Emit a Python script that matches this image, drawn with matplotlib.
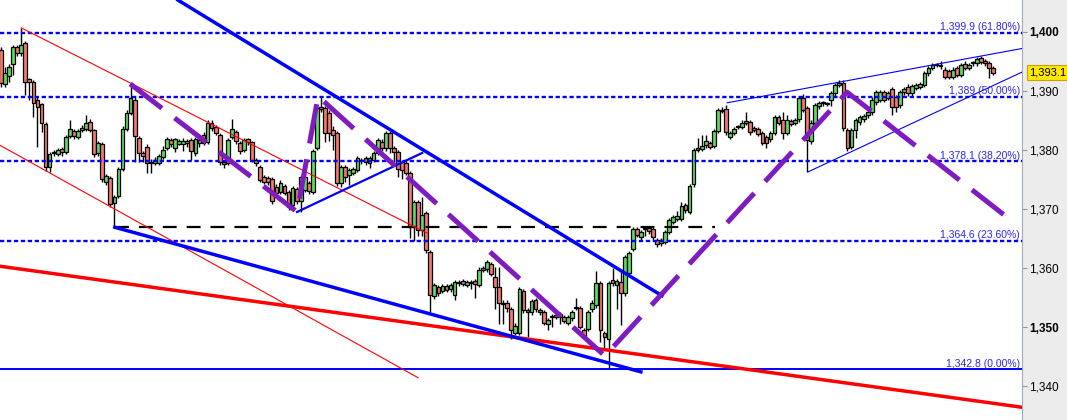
import matplotlib.pyplot as plt
import matplotlib.transforms as mtransforms
from matplotlib.patches import Rectangle

plt.rcParams['font.family'] = ['Liberation Sans', 'DejaVu Sans']
plt.rcParams['lines.scale_dashes'] = False

# daily candles
opens = [1396.9, 1391.2, 1392.5, 1394.6, 1397.4, 1396.4, 1398.1, 1392.0, 1391.5, 1388.5,
         1387.8, 1384.4, 1377.1, 1379.6, 1379.3, 1380.2, 1379.6, 1382.3, 1383.2, 1382.2,
         1383.4, 1383.5, 1384.7, 1383.4, 1379.5, 1381.0, 1374.6, 1375.2, 1371.0, 1372.2,
         1376.8, 1383.5, 1386.3, 1388.5, 1382.0, 1379.5, 1380.5, 1377.9, 1377.8, 1377.8,
         1378.8, 1380.3, 1381.7, 1380.3, 1381.0, 1381.0, 1381.2, 1381.7, 1379.5, 1381.7,
         1382.5, 1381.3, 1384.6, 1383.9, 1382.5, 1377.9, 1377.8, 1382.2, 1383.0, 1381.2,
         1380.0, 1381.8, 1381.3, 1378.3, 1377.1, 1375.4, 1375.2, 1375.1, 1373.7, 1372.9,
         1373.9, 1372.9, 1370.7, 1373.4, 1371.3, 1373.2, 1374.4, 1372.9, 1380.3, 1387.3,
         1387.1, 1386.3, 1383.4, 1382.9, 1374.4, 1377.1, 1375.7, 1376.1, 1376.6, 1378.1,
         1378.6, 1377.8, 1378.3, 1379.5, 1381.3, 1380.3, 1382.9, 1380.3, 1379.6, 1377.9,
         1377.8, 1376.1, 1366.9, 1371.2, 1366.4, 1369.3, 1362.7, 1355.2, 1356.8, 1356.1,
         1356.9, 1356.4, 1355.4, 1357.6, 1357.8, 1357.1, 1357.4, 1357.8, 1357.1, 1359.7,
         1359.8, 1360.7, 1358.4, 1356.8, 1354.1, 1354.1, 1353.0, 1349.0, 1349.0, 1356.1,
         1352.9, 1352.5, 1354.6, 1352.9, 1352.5, 1350.5, 1351.8, 1351.7, 1352.2, 1351.7,
         1350.7, 1351.5, 1353.2, 1353.2, 1349.5, 1349.7, 1353.0, 1353.7, 1357.4, 1349.0,
         1347.9, 1358.0, 1357.1, 1357.6, 1355.7, 1359.1, 1363.2, 1366.6, 1365.2, 1366.6,
         1366.8, 1366.6, 1364.7, 1364.2, 1364.4, 1366.1, 1367.8, 1368.3, 1368.3, 1370.7,
         1369.5, 1374.2, 1380.0, 1380.2, 1380.8, 1381.2, 1380.7, 1383.2, 1386.8, 1386.9,
         1382.2, 1382.9, 1383.9, 1383.9, 1384.6, 1384.7, 1383.7, 1383.5, 1382.9, 1382.2,
         1381.8, 1382.9, 1385.6, 1385.1, 1382.9, 1384.9, 1384.6, 1385.2, 1388.8, 1387.1,
         1381.5, 1384.6, 1387.4, 1387.9, 1387.9, 1388.5, 1389.6, 1391.0, 1391.4, 1383.4,
         1380.5, 1383.4, 1384.7, 1385.2, 1385.9, 1386.4, 1388.1, 1388.5, 1389.8, 1388.8,
         1390.3, 1389.0, 1387.6, 1389.8, 1390.7, 1389.6, 1390.5, 1390.7, 1391.0, 1393.0,
         1393.9, 1394.4, 1394.4, 1393.6, 1393.4, 1392.4, 1393.9, 1392.7, 1394.6, 1393.9,
         1394.7, 1394.7, 1395.6, 1395.1, 1394.7, 1393.9]
highs = [1397.5, 1394.1, 1394.5, 1397.8, 1397.8, 1400.7, 1398.5, 1392.2, 1391.9, 1388.9,
         1388.0, 1384.8, 1379.6, 1380.0, 1380.4, 1380.5, 1382.6, 1385.1, 1383.6, 1383.6,
         1384.2, 1385.9, 1385.2, 1383.6, 1381.6, 1381.4, 1376.0, 1375.6, 1372.3, 1377.2,
         1384.0, 1386.7, 1391.4, 1389.0, 1382.4, 1379.8, 1381.0, 1378.4, 1378.8, 1379.4,
         1380.6, 1382.2, 1382.0, 1382.0, 1381.8, 1382.0, 1381.9, 1382.0, 1382.2, 1382.0,
         1383.0, 1385.0, 1385.0, 1384.3, 1382.9, 1378.2, 1382.0, 1385.2, 1383.4, 1381.5,
         1382.0, 1382.1, 1381.6, 1378.6, 1377.5, 1375.8, 1375.6, 1375.4, 1374.2, 1374.9,
         1374.3, 1373.2, 1373.9, 1373.8, 1375.8, 1376.3, 1374.8, 1380.2, 1387.5, 1389.1,
         1387.5, 1386.7, 1384.0, 1383.3, 1377.5, 1377.5, 1377.0, 1377.2, 1379.0, 1378.7,
         1379.0, 1379.0, 1379.9, 1382.1, 1381.8, 1383.3, 1383.3, 1380.7, 1380.0, 1378.3,
         1378.2, 1376.5, 1371.6, 1371.6, 1372.0, 1369.7, 1363.1, 1357.5, 1357.2, 1357.3,
         1357.3, 1357.5, 1358.0, 1358.0, 1358.2, 1358.0, 1357.9, 1358.2, 1360.1, 1360.4,
         1361.4, 1361.1, 1360.2, 1360.2, 1354.5, 1354.5, 1353.4, 1350.6, 1356.8, 1356.5,
         1353.3, 1354.8, 1355.0, 1353.3, 1352.9, 1351.6, 1352.2, 1352.4, 1352.6, 1352.1,
         1352.1, 1352.9, 1355.0, 1353.6, 1349.9, 1352.9, 1354.5, 1359.5, 1357.8, 1349.4,
         1357.8, 1360.0, 1358.2, 1359.5, 1362.2, 1362.9, 1367.0, 1367.0, 1366.5, 1367.0,
         1367.2, 1367.0, 1365.1, 1365.1, 1366.5, 1368.5, 1369.0, 1369.6, 1371.2, 1371.1,
         1374.3, 1380.4, 1382.0, 1382.5, 1382.5, 1381.6, 1383.6, 1387.2, 1387.3, 1387.6,
         1383.3, 1383.9, 1384.3, 1385.0, 1386.4, 1385.1, 1384.1, 1383.9, 1383.3, 1382.6,
         1383.3, 1386.0, 1386.0, 1386.5, 1386.0, 1385.3, 1385.5, 1389.2, 1389.5, 1387.5,
         1385.0, 1388.0, 1388.3, 1388.3, 1388.2, 1390.0, 1391.4, 1391.8, 1391.8, 1383.8,
         1383.8, 1385.5, 1386.0, 1386.1, 1387.5, 1388.9, 1390.2, 1390.2, 1390.2, 1390.0,
         1390.7, 1389.4, 1390.2, 1390.7, 1391.1, 1391.2, 1391.4, 1391.6, 1393.4, 1394.3,
         1394.8, 1394.8, 1395.0, 1394.0, 1393.8, 1394.0, 1394.3, 1394.8, 1395.0, 1394.8,
         1395.1, 1395.8, 1396.0, 1395.5, 1395.1, 1394.3]
lows = [1390.7, 1390.7, 1391.6, 1392.7, 1396.0, 1396.0, 1389.3, 1388.5, 1385.6, 1380.5,
        1383.0, 1376.5, 1376.3, 1379.0, 1378.9, 1379.0, 1379.3, 1382.0, 1381.8, 1381.8,
        1383.0, 1383.2, 1383.0, 1378.8, 1379.0, 1374.6, 1374.0, 1370.3, 1367.0, 1371.8,
        1376.4, 1383.2, 1386.0, 1377.9, 1378.0, 1378.0, 1376.1, 1376.1, 1377.4, 1377.5,
        1378.4, 1380.0, 1380.5, 1379.6, 1380.8, 1379.8, 1380.5, 1378.3, 1379.0, 1380.5,
        1380.8, 1381.0, 1383.3, 1382.5, 1377.4, 1376.9, 1377.4, 1381.8, 1381.0, 1379.3,
        1379.6, 1380.9, 1377.9, 1377.3, 1374.5, 1374.2, 1374.0, 1370.9, 1372.3, 1372.5,
        1372.3, 1369.8, 1370.3, 1370.9, 1369.5, 1372.8, 1372.5, 1372.5, 1380.0, 1386.5,
        1381.3, 1381.5, 1380.0, 1373.9, 1373.8, 1374.5, 1374.0, 1375.7, 1376.2, 1377.7,
        1377.5, 1377.0, 1377.9, 1379.1, 1379.9, 1379.9, 1379.5, 1378.0, 1375.5, 1375.0,
        1375.7, 1365.0, 1364.5, 1365.5, 1365.5, 1362.5, 1352.5, 1354.8, 1355.3, 1355.7,
        1355.9, 1356.0, 1354.5, 1357.0, 1356.9, 1356.7, 1356.5, 1355.0, 1356.7, 1359.3,
        1359.4, 1358.6, 1353.0, 1350.5, 1350.5, 1352.5, 1348.0, 1348.6, 1348.6, 1352.4,
        1348.3, 1352.1, 1352.6, 1352.1, 1350.3, 1349.5, 1350.0, 1351.3, 1350.5, 1350.6,
        1350.3, 1351.1, 1352.8, 1349.6, 1347.9, 1349.3, 1352.6, 1353.3, 1347.5, 1346.3,
        1343.0, 1357.0, 1353.0, 1350.3, 1355.3, 1358.7, 1362.8, 1365.2, 1364.8, 1365.5,
        1365.8, 1364.8, 1363.6, 1363.8, 1364.0, 1365.7, 1367.4, 1367.9, 1367.9, 1369.4,
        1369.1, 1373.8, 1379.6, 1379.8, 1380.4, 1380.1, 1380.3, 1382.8, 1386.2, 1382.6,
        1381.8, 1382.5, 1383.5, 1383.5, 1384.3, 1382.6, 1383.0, 1382.3, 1380.8, 1380.3,
        1381.4, 1382.5, 1384.2, 1381.8, 1382.5, 1384.0, 1384.2, 1384.8, 1386.4, 1376.3,
        1381.1, 1384.2, 1387.0, 1387.5, 1387.4, 1387.5, 1389.2, 1390.6, 1383.3, 1379.9,
        1380.1, 1382.0, 1384.3, 1384.8, 1385.5, 1386.0, 1387.7, 1388.1, 1388.1, 1388.4,
        1386.0, 1386.5, 1387.2, 1389.4, 1389.2, 1389.2, 1390.1, 1390.3, 1390.6, 1392.6,
        1393.5, 1394.0, 1393.8, 1392.0, 1392.0, 1392.0, 1392.3, 1392.3, 1393.5, 1393.5,
        1394.3, 1394.3, 1394.5, 1394.3, 1392.2, 1392.7]
closes = [1391.4, 1393.0, 1394.1, 1397.4, 1396.4, 1397.8, 1391.5, 1391.5, 1387.9, 1387.3,
          1384.6, 1377.1, 1379.3, 1379.5, 1380.0, 1379.6, 1382.2, 1383.5, 1382.3, 1383.2,
          1383.7, 1384.6, 1383.4, 1379.3, 1381.2, 1375.1, 1375.6, 1370.8, 1372.0, 1376.8,
          1383.5, 1386.3, 1388.8, 1382.3, 1379.5, 1378.9, 1377.8, 1377.8, 1378.3, 1378.9,
          1380.0, 1381.8, 1381.0, 1381.8, 1381.5, 1381.5, 1381.5, 1379.8, 1381.8, 1381.2,
          1381.2, 1384.6, 1383.7, 1382.9, 1377.9, 1377.6, 1381.7, 1383.5, 1381.5, 1379.8,
          1381.7, 1381.3, 1378.3, 1377.8, 1374.9, 1374.6, 1374.6, 1371.3, 1372.7, 1374.4,
          1372.7, 1370.3, 1373.5, 1371.3, 1375.4, 1375.4, 1373.0, 1379.8, 1387.1, 1386.9,
          1382.9, 1382.9, 1382.5, 1374.4, 1377.1, 1375.4, 1376.6, 1376.8, 1378.6, 1378.3,
          1377.9, 1378.6, 1379.5, 1381.7, 1380.3, 1382.9, 1380.3, 1379.6, 1376.8, 1376.6,
          1376.1, 1366.9, 1371.2, 1366.4, 1369.0, 1363.0, 1355.4, 1357.1, 1355.7, 1356.9,
          1356.3, 1357.1, 1357.6, 1357.4, 1357.3, 1357.6, 1357.4, 1357.3, 1359.7, 1360.0,
          1361.0, 1359.0, 1356.8, 1354.1, 1353.9, 1353.2, 1349.5, 1350.2, 1356.4, 1352.9,
          1352.5, 1354.4, 1353.0, 1352.5, 1350.7, 1351.2, 1351.7, 1352.0, 1351.7, 1351.0,
          1351.7, 1352.5, 1353.4, 1350.0, 1348.3, 1352.5, 1354.1, 1357.4, 1349.5, 1348.3,
          1357.4, 1357.4, 1357.8, 1355.7, 1361.8, 1362.5, 1366.6, 1365.6, 1366.1, 1366.6,
          1366.2, 1365.2, 1364.0, 1364.7, 1366.1, 1368.1, 1368.6, 1368.8, 1370.5, 1369.8,
          1373.9, 1380.0, 1380.3, 1380.7, 1381.5, 1380.5, 1383.2, 1386.8, 1386.6, 1383.0,
          1382.9, 1383.5, 1383.9, 1384.6, 1384.9, 1383.0, 1383.4, 1382.7, 1381.2, 1381.2,
          1382.9, 1385.6, 1384.6, 1382.9, 1385.1, 1384.4, 1385.1, 1388.8, 1386.8, 1381.7,
          1384.6, 1387.6, 1387.9, 1387.9, 1387.8, 1389.6, 1391.0, 1391.4, 1383.7, 1380.3,
          1383.4, 1385.1, 1385.6, 1385.7, 1386.4, 1388.5, 1389.8, 1389.8, 1388.5, 1389.6,
          1387.3, 1387.3, 1389.8, 1390.3, 1389.6, 1390.8, 1391.0, 1391.2, 1393.0, 1393.9,
          1394.4, 1394.4, 1394.2, 1392.4, 1392.4, 1393.6, 1392.7, 1394.4, 1393.9, 1394.4,
          1394.7, 1395.4, 1394.9, 1394.7, 1393.9, 1393.1]

# fibonacci retracement levels
fib_levels = [1399.9, 1389.0, 1378.1, 1364.6]
fib_labels = ['1,399.9 (61.80%)', '1,389 (50.00%)', '1,378.1 (38.20%)', '1,364.6 (23.60%)']
base_level = 1342.8
base_label = '1,342.8 (0.00%)'
support_level = 1367.0
last_price = 1393.1

# drawn trend lines, as (bar index, price)
red_upper = ([5.0, 105.2], [1400.7, 1365.9])
red_lower = ([-0.25, 103.0], [1380.8, 1341.4])
red_long = ([-0.25, 252.1], [1360.3, 1336.4])
wedge_top = ([43.7, 163.2], [1405.4, 1355.3])
wedge_bottom = ([28.1, 158.0], [1366.9, 1342.4])
flag_line = ([73.1, 104.0], [1369.5, 1379.5])
rise_top = ([179.3, 252.1], [1388.0, 1397.2])
rise_bottom = ([199.3, 252.1], [1376.3, 1393.2])
support_span = [28.1, 176.3]
zigzag = ([31.9, 73.1, 78.3, 149.1, 208.9, 248.6],
          [1391.2, 1369.5, 1389.1, 1345.1, 1389.8, 1368.5])

fig = plt.figure(figsize=(10.67, 4.2), dpi=100)
fig.patches.append(Rectangle((1022 / 1067, 0), 45 / 1067, 1, transform=fig.transFigure,
                             facecolor='#ECECEC', edgecolor='none', zorder=-1))
ax = fig.add_axes([0, 0, 1022 / 1067, 1])

x = list(range(len(opens)))
up = [c >= o for o, c in zip(opens, closes)]
bottoms = [min(o, c) for o, c in zip(opens, closes)]
heights = [max(abs(c - o), 0.15) for o, c in zip(opens, closes)]
colors = ['#5FDC5F' if u else '#F27A70' for u in up]

ax.vlines(x, lows, highs, color='black', linewidth=1.0, zorder=2)
ax.bar(x, heights, bottom=bottoms, width=0.92, color=colors, edgecolor='black',
       linewidth=0.9, zorder=3)

for lvl in fib_levels:
    ax.axhline(lvl, color='#0000FF', linewidth=1.7, linestyle=(0, (3.1, 1.9)), zorder=4)
ax.axhline(base_level, color='#0000FF', linewidth=1.4, zorder=4)

ax.plot(support_span, [support_level, support_level], color='black', linewidth=1.6,
        linestyle=(0, (10, 7.2)), zorder=4)

ax.plot(*red_upper, color='#FF0000', linewidth=0.8, zorder=4)
ax.plot(*red_lower, color='#FF0000', linewidth=0.8, zorder=4)
ax.plot(*red_long, color='#FF0000', linewidth=2.5, zorder=4)
ax.plot(*wedge_top, color='#0000FF', linewidth=2.5, zorder=4)
ax.plot(*wedge_bottom, color='#0000FF', linewidth=2.5, zorder=4)
ax.plot(*flag_line, color='#0000FF', linewidth=1.6, zorder=4)
ax.plot(*rise_top, color='#0000FF', linewidth=0.8, zorder=4)
ax.plot(*rise_bottom, color='#0000FF', linewidth=0.8, zorder=4)
ax.plot(*zigzag, color='#7E1CC0', linewidth=3.6, linestyle=(0, (28.8, 11.5)),
        dash_capstyle='butt', zorder=5)

trans = mtransforms.blended_transform_factory(ax.transAxes, ax.transData)
trans_up = mtransforms.offset_copy(trans, fig=fig, y=2.5, units='dots')
for lvl, lab in zip(fib_levels + [base_level], fib_labels + [base_label]):
    ax.text(0.998, lvl, lab, transform=trans_up, ha='right', va='baseline',
            fontsize=7.5, color='#2828E8', zorder=6)

ax.set_xlim(-0.25, 252.1)
ax.set_ylim(1334.24, 1405.42)
ax.set_xticks([])
ticks = [1340, 1350, 1360, 1370, 1380, 1390, 1400]
ax.yaxis.tick_right()
ax.set_yticks(ticks, labels=[f'{t:,}' for t in ticks])
ax.tick_params(axis='y', direction='out', length=3.6, width=0.8, color='#8C96AA',
               pad=1.5, labelsize=8.5, labelcolor='black')
for lab in ax.get_yticklabels():
    if lab.get_text() in ('1,400', '1,350'):
        lab.set_fontweight('bold')
for side in ['left', 'top', 'bottom']:
    ax.spines[side].set_visible(False)
ax.spines['right'].set_color('#A0AABE')
ax.spines['right'].set_linewidth(0.8)

ax.text(1029 / 1022, last_price, f'{last_price:,.1f}', transform=trans, ha='left',
        va='center', fontsize=8, clip_on=False, zorder=7,
        bbox=dict(boxstyle='square,pad=0.22', facecolor='#FFE800', edgecolor='#C8A200',
                  linewidth=0.8))

fig.savefig('out.png', dpi=100)
